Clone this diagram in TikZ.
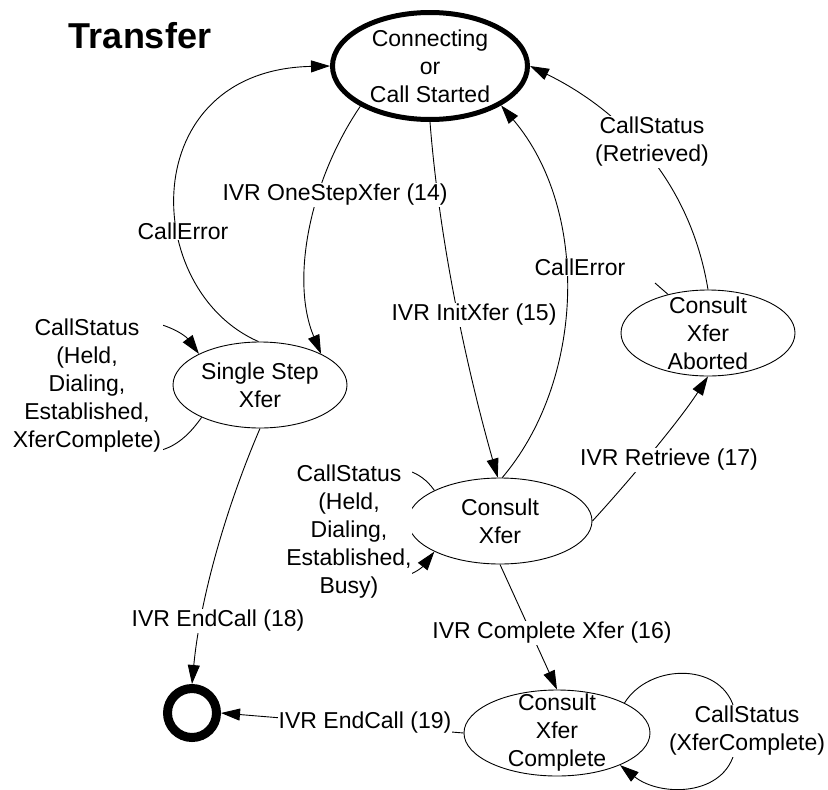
\documentclass[tikz,border=0pt]{standalone}
\usepackage{fontspec}
\setmainfont{Liberation Sans}
\usetikzlibrary{shapes.geometric,arrows.meta}
\begin{document}
\begin{tikzpicture}[x=1pt,y=-1pt,
  every node/.style={font=\fontsize{23}{28}\selectfont, align=center},
  state/.style={draw, ellipse, inner sep=0pt, line width=0.9pt},
  lbl/.style={fill=white, inner sep=1pt},
  edge/.style={draw, line width=0.9pt, -{Triangle[length=19pt,width=12pt]}},
  plain/.style={draw, line width=0.9pt}]
\useasboundingbox (0,0) rectangle (828,790);

\node[font=\bfseries\fontsize{36}{40}\selectfont] (title) at (140,36) {Transfer};

\node[state, line width=5pt, minimum width=195pt, minimum height=107pt,
  label={center:Connecting\\or\\Call Started}] (conn) at (430,66) {};
\node[state, minimum width=174pt, minimum height=86pt,
  label={center:Single Step\\Xfer}] (ss) at (260,385) {};
\node[state, minimum width=184pt, minimum height=86pt,
  label={center:Consult\\Xfer}] (cx) at (500,521) {};
\node[state, minimum width=174pt, minimum height=86pt,
  label={center:Consult\\Xfer\\Aborted}] (ab) at (708,333) {};
\node[state, minimum width=186pt, minimum height=86pt,
  label={center:Consult\\Xfer\\Complete}] (cc) at (557,733) {};
\node[circle, draw, line width=9pt, minimum size=49pt, inner sep=0pt] (fin) at (192,713) {};

% connectors
\draw[edge] (ss.92) .. controls (140,290) and (135,70) .. (conn.west);
\draw[edge] (conn.210) .. controls (310,180) and (290,280) .. (ss.27);
\draw[edge] (conn.south) .. controls (440,250) and (470,380) .. (cx.93);
\draw[edge] (cx.87) .. controls (585,380) and (590,210) .. (conn.331);
\draw[edge] (ab.north) .. controls (690,180) and (620,110) .. (conn.east);
\coordinate (stubend) at (655,283);
\draw[plain] (ab.136) -- (stubend);
\draw[edge] (cx.east) .. controls (630,480) and (680,420) .. (ab.south);
\draw[edge] (ss.209) .. controls (180,448) and (160,455) .. (130,452) -- (130,322)
  .. controls (160,318) and (185,335) .. (ss.153);
\draw[edge] (cx.155) .. controls (420,470) and (400,466) .. (380,470) -- (380,580)
  .. controls (400,582) and (420,570) .. (cx.205.5);
\draw[edge] (cc.24.5) .. controls (650,662) and (725,662) .. (735,712) -- (735,750)
  .. controls (725,797) and (660,797) .. (cc.333);
\draw[edge] (cx.south) -- (cc.north);
\draw[edge] (ss.south) .. controls (225,510) and (200,600) .. (fin.north);
\draw[edge] (cc.west) -- (fin.east);

% labels
\node[lbl] (l1) at (183,231) {CallError};
\node[lbl] (l2) at (335,195) {IVR OneStepXfer (14)};
\node[lbl] (l3) at (474,315) {IVR InitXfer (15)};
\node[lbl] (l4) at (580,267) {CallError};
\node[lbl] (l5) at (652,142) {CallStatus\\(Retrieved)};
\node[lbl] (l6) at (669,460) {IVR Retrieve (17)};
\node[lbl, inner sep=2pt] (l7) at (87,386) {CallStatus\\(Held,\\Dialing,\\Established,\\XferComplete)};
\node[lbl, inner sep=0pt] (l8) at (349,532) {CallStatus\\(Held,\\Dialing,\\Established,\\Busy)};
\node[lbl] (l9) at (747,731) {CallStatus\\(XferComplete)};
\node[lbl] (l10) at (552,633) {IVR Complete Xfer (16)};
\node[lbl] (l11) at (218,621) {IVR EndCall (18)};
\node[lbl] (l12) at (365,723) {IVR EndCall (19)};
\end{tikzpicture}
\end{document}
